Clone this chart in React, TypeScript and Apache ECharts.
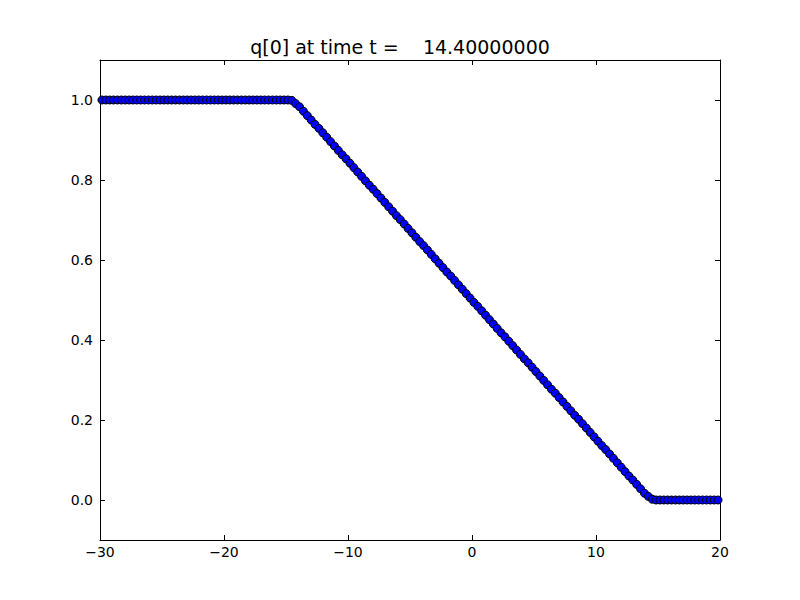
import React, { useEffect, useRef } from "react";
import * as echarts from "echarts";

// Grid definition (finite-volume cells)
const xLower = -30;
const xUpper = 20;
const numCells = 160;

// q[0] values, one per cell (left to right)
const flatLeft: number[] = new Array(49).fill(1.0);
const ramp: number[] = [
  0.999, 0.991, 0.983, 0.972, 0.961, 0.95, 0.939, 0.929, 0.918, 0.907,
  0.896, 0.885, 0.874, 0.863, 0.853, 0.842, 0.831, 0.82, 0.809, 0.798,
  0.787, 0.777, 0.766, 0.755, 0.744, 0.733, 0.722, 0.711, 0.701, 0.69,
  0.679, 0.668, 0.657, 0.646, 0.636, 0.625, 0.614, 0.603, 0.592, 0.581,
  0.57, 0.56, 0.549, 0.538, 0.527, 0.516, 0.505, 0.494, 0.484, 0.473,
  0.462, 0.451, 0.44, 0.429, 0.418, 0.408, 0.397, 0.386, 0.375, 0.364,
  0.353, 0.343, 0.332, 0.321, 0.31, 0.299, 0.288, 0.277, 0.267, 0.256,
  0.245, 0.234, 0.223, 0.212, 0.202, 0.191, 0.18, 0.169, 0.158, 0.147,
  0.136, 0.126, 0.115, 0.104, 0.093, 0.082, 0.071, 0.06, 0.05, 0.039,
  0.028, 0.017, 0.009, 0.002,
];
const flatRight: number[] = new Array(numCells - 49 - 94).fill(0.0);
const qValues: number[] = [...flatLeft, ...ramp, ...flatRight];

const yTicks = [0.0, 0.2, 0.4, 0.6, 0.8, 1.0];
const titleText = "q[0] at time t =    14.40000000";

export default function App() {
  const ref = useRef<HTMLDivElement>(null);
  useEffect(() => {
    if (!ref.current) return;
    const chart = echarts.init(ref.current, undefined, { renderer: "svg" });
    const dx = (xUpper - xLower) / numCells;
    const data = qValues.map((q, i) => [xLower + dx * (i + 0.5), q]);
    const font = "DejaVu Sans";
    const axisCommon = {
      axisLine: { show: true, onZero: false, lineStyle: { color: "#000", width: 1 } },
      axisTick: { show: true, inside: true, length: 5, lineStyle: { color: "#000" } },
      splitLine: { show: false },
    };
    chart.setOption({
      animation: false,
      backgroundColor: "#fff",
      title: {
        text: titleText,
        left: "center",
        top: 32,
        textStyle: { fontFamily: font, fontSize: 19, fontWeight: "normal", color: "#000" },
      },
      grid: { left: 100, right: 80, top: 60, bottom: 60 },
      xAxis: [
        {
          type: "value",
          min: -30,
          max: 20,
          interval: 10,
          position: "bottom",
          ...axisCommon,
          axisLabel: {
            color: "#000",
            fontFamily: font,
            fontSize: 14,
            margin: 5,
            formatter: (v: number) => (v < 0 ? "\u2212" + Math.abs(v) : String(v)),
          },
        },
        {
          type: "value",
          min: -30,
          max: 20,
          interval: 10,
          position: "top",
          ...axisCommon,
          axisLabel: { show: false },
        },
      ],
      yAxis: [
        {
          type: "value",
          min: -0.1,
          max: 1.1,
          position: "left",
          ...axisCommon,
          axisTick: { ...axisCommon.axisTick, customValues: yTicks },
          axisLabel: {
            color: "#000",
            fontFamily: font,
            fontSize: 14,
            margin: 7,
            customValues: yTicks,
            formatter: (v: number) => v.toFixed(1),
          },
        },
        {
          type: "value",
          min: -0.1,
          max: 1.1,
          position: "right",
          ...axisCommon,
          axisTick: { ...axisCommon.axisTick, customValues: yTicks },
          axisLabel: { show: false, customValues: yTicks },
        },
      ],
      series: [
        {
          type: "scatter",
          xAxisIndex: 0,
          yAxisIndex: 0,
          data,
          symbol: "circle",
          symbolSize: 8,
          itemStyle: { color: "#0000ff", borderColor: "#000", borderWidth: 1, opacity: 1 },
        },
      ],
    });
    return () => chart.dispose();
  }, []);
  return (
    <div
      ref={ref}
      style={{ position: "absolute", left: 0, top: 0, width: 800, height: 600 }}
    />
  );
}
